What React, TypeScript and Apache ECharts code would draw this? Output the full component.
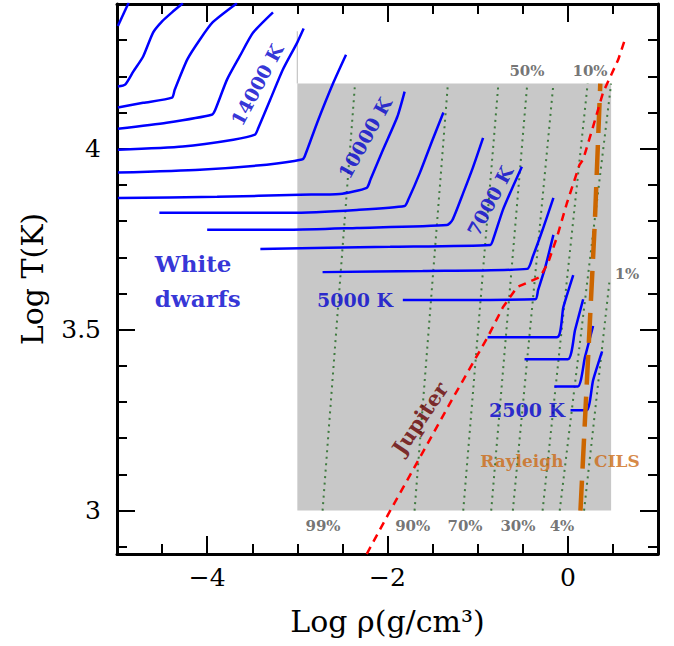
import React, { useEffect, useRef } from 'react';
import * as echarts from 'echarts';

// ---------- data (log rho, log T) ----------
const xRange = [-5, 1];
const yRange = [2.88, 4.4];
const xMajorTicks = [-4, -2, 0];
const xMinorTicks = [-4.5, -3.5, -3, -2.5, -1.5, -1, -0.5, 0.5];
const yMajorTicks = [3, 3.5, 4];
const yMinorTicks = [2.9, 3.1, 3.2, 3.3, 3.4, 3.6, 3.7, 3.8, 3.9, 4.1, 4.2, 4.3];

// white-dwarf cooling / isotherm curves
const wdCurves: number[][][] = [
  [[-4.99, 4.339], [-4.87, 4.404]],
  [[-4.99, 4.172], [-4.91, 4.177], [-4.82, 4.213], [-4.71, 4.255], [-4.6, 4.321], [-4.5, 4.352], [-4.39, 4.377], [-4.27, 4.402]],
  [[-4.99, 4.114], [-4.71, 4.127], [-4.39, 4.141], [-4.36, 4.163], [-4.22, 4.247], [-4.08, 4.302], [-3.94, 4.349], [-3.67, 4.402]],
  [[-4.99, 4.055], [-4.45, 4.072], [-3.95, 4.094], [-3.91, 4.108], [-3.78, 4.191], [-3.64, 4.255], [-3.49, 4.321], [-3.27, 4.377]],
  [[-4.99, 3.997], [-4.27, 4.006], [-3.71, 4.025], [-3.47, 4.039], [-3.44, 4.053], [-3.3, 4.136], [-3.16, 4.219], [-3.0, 4.294], [-2.93, 4.332]],
  [[-4.99, 3.934], [-4.08, 3.942], [-3.34, 3.956], [-2.95, 3.97], [-2.92, 3.978], [-2.78, 4.072], [-2.6, 4.183], [-2.46, 4.26]],
  [[-4.99, 3.864], [-3.89, 3.867], [-2.97, 3.873], [-2.53, 3.875], [-2.23, 3.892], [-2.19, 3.914], [-2.05, 3.997], [-1.89, 4.089], [-1.81, 4.158]],
  [[-4.53, 3.823], [-3.08, 3.823], [-2.34, 3.831], [-1.81, 3.842], [-1.77, 3.859], [-1.64, 3.934], [-1.5, 4.025], [-1.38, 4.1]],
  [[-4.0, 3.776], [-3.08, 3.776], [-2.34, 3.781], [-1.34, 3.789], [-1.28, 3.803], [-1.16, 3.878], [-1.05, 3.95], [-0.94, 4.03]],
  [[-3.41, 3.723], [-1.97, 3.729], [-0.86, 3.734], [-0.83, 3.748], [-0.72, 3.831], [-0.61, 3.895], [-0.51, 3.95]],
  [[-2.72, 3.659], [-1.61, 3.662], [-0.45, 3.668], [-0.39, 3.701], [-0.28, 3.776], [-0.16, 3.864]],
  [[-1.83, 3.582], [-0.36, 3.584], [-0.33, 3.609], [-0.25, 3.673], [-0.16, 3.762]],
  [[-0.89, 3.479], [-0.12, 3.479], [-0.05, 3.562], [0.06, 3.651]],
  [[-0.48, 3.418], [0.0, 3.418], [0.08, 3.499], [0.17, 3.584]],
  [[-0.15, 3.343], [0.11, 3.343], [0.19, 3.424], [0.28, 3.51]],
  [[0.03, 3.277], [0.21, 3.277], [0.28, 3.36], [0.38, 3.44]],
];

// dotted iso-fraction lines (99%, 90%, 70%, 50%, 30%, 10%, 4%, 1%)
const isoLines: number[][][] = [
  [[-2.72, 3.0], [-2.36, 4.18]],
  [[-1.7, 3.0], [-1.33, 4.18]],
  [[-1.16, 3.0], [-0.77, 4.18]],
  [[-0.85, 3.0], [-0.45, 4.18]],
  [[-0.61, 3.0], [-0.16, 4.18]],
  [[-0.28, 3.0], [0.22, 4.18]],
  [[-0.09, 3.0], [0.48, 4.18]],
  [[0.18, 3.0], [0.46, 3.63]],
];

const jupiter: number[][] = [
  [-2.23, 2.88], [-1.97, 3.0], [-1.64, 3.147], [-1.27, 3.313], [-0.89, 3.479], [-0.72, 3.562],
  [-0.56, 3.618], [-0.31, 3.645], [-0.22, 3.684], [-0.12, 3.756], [-0.01, 3.85], [0.13, 3.956],
  [0.17, 3.97], [0.28, 4.061], [0.39, 4.155], [0.56, 4.247], [0.64, 4.307],
];

const rayleighCils: number[][] = [[0.14, 3.0], [0.22, 3.4], [0.3, 3.8], [0.36, 4.18]];

const greyBox = [[-3, 3.0], [0.48, 4.18]];
const greyEdge: number[][] = [[-3, 4.18], [-3, 4.325]];

type Lab = { text: string; x: number; y: number; rot: number; color: string; size: number; bold: boolean; align?: string };
const BLUE = '#0000cc';
const GREY = '#505050';
const ORANGE = '#cc6a14';
const labels: Lab[] = [
  { text: '14000 K', x: -3.447, y: 4.177, rot: 62, color: BLUE, size: 19, bold: true },
  { text: '10000 K', x: -2.25, y: 4.03, rot: 61, color: BLUE, size: 19, bold: true },
  { text: '7000 K', x: -0.863, y: 3.856, rot: 62, color: BLUE, size: 19, bold: true },
  { text: '5000 K', x: -2.36, y: 3.582, rot: 0, color: BLUE, size: 19, bold: true },
  { text: '2500 K', x: -0.453, y: 3.277, rot: 0, color: BLUE, size: 19, bold: true },
  { text: 'White\ndwarfs', x: -4.58, y: 3.634, rot: 0, color: BLUE, size: 23, bold: true, align: 'left' },
  { text: 'Jupiter', x: -1.64, y: 3.255, rot: 56, color: '#660000', size: 21, bold: true },
  { text: 'Rayleigh', x: -0.51, y: 3.136, rot: 0, color: ORANGE, size: 17, bold: true },
  { text: 'CILS', x: 0.545, y: 3.136, rot: 0, color: ORANGE, size: 17, bold: true },
  { text: '99%', x: -2.715, y: 2.958, rot: 0, color: GREY, size: 15, bold: true },
  { text: '90%', x: -1.72, y: 2.958, rot: 0, color: GREY, size: 15, bold: true },
  { text: '70%', x: -1.14, y: 2.958, rot: 0, color: GREY, size: 15, bold: true },
  { text: '30%', x: -0.553, y: 2.958, rot: 0, color: GREY, size: 15, bold: true },
  { text: '4%', x: -0.065, y: 2.958, rot: 0, color: GREY, size: 15, bold: true },
  { text: '50%', x: -0.453, y: 4.216, rot: 0, color: GREY, size: 15, bold: true },
  { text: '10%', x: 0.246, y: 4.216, rot: 0, color: GREY, size: 15, bold: true },
  { text: '1%', x: 0.656, y: 3.654, rot: 0, color: GREY, size: 15, bold: true },
];

const FONT = 'DejaVu Serif';

function buildOption(): any {
  const lineStyle = { color: '#000', width: 3 };
  const tickStyle = { color: '#000', width: 2 };
  const mk = (dim: 'x' | 'y', position: string, major: boolean, withLine: boolean, withLabel: boolean) => {
    const range = dim === 'x' ? xRange : yRange;
    const ticks = dim === 'x' ? (major ? xMajorTicks : xMinorTicks) : (major ? yMajorTicks : yMinorTicks);
    const ax: any = {
      type: 'value', position, min: range[0], max: range[1],
      splitLine: { show: false },
      axisLine: { show: withLine, onZero: false, lineStyle },
      axisTick: { show: true, inside: true, length: major ? 18 : 10, lineStyle: tickStyle, customValues: ticks },
      axisLabel: { show: false },
    };
    if (withLabel) {
      ax.axisLabel = {
        show: true, customValues: ticks, fontSize: 25, fontFamily: FONT, color: '#000',
        margin: dim === 'x' ? 11 : 16,
        formatter: (v: number) => String(v).replace('-', '\u2212'),
      };
      ax.nameLocation = 'middle';
      ax.nameTextStyle = { fontSize: 30, fontFamily: FONT, color: '#000' };
      if (dim === 'x') {
        ax.name = 'Log \u03c1(g/cm\u00b3)';
        ax.nameGap = 52;
      } else {
        ax.name = 'Log T(K)';
        ax.nameGap = 70;
        ax.nameRotate = 90;
      }
    }
    return ax;
  };
  const xAxes = [
    mk('x', 'bottom', true, true, true),
    mk('x', 'bottom', false, false, false),
    mk('x', 'top', true, true, false),
    mk('x', 'top', false, false, false),
  ];
  const yAxes = [
    mk('y', 'left', true, true, true),
    mk('y', 'left', false, false, false),
    mk('y', 'right', true, true, false),
    mk('y', 'right', false, false, false),
  ];

  const series: any[] = [];
  series.push({
    type: 'line', silent: true, symbol: 'none', data: greyEdge, z: 2,
    lineStyle: { color: '#c4c4c4', width: 1.2 },
    markArea: {
      silent: true,
      itemStyle: { color: '#c8c8c8' },
      data: [[{ coord: greyBox[0] }, { coord: greyBox[1] }]],
    },
  });
  isoLines.forEach((d) =>
    series.push({
      type: 'line', silent: true, symbol: 'none', data: d, z: 3,
      lineStyle: { color: '#3f7a3f', width: 2, type: [2, 4.5] },
    })
  );
  wdCurves.forEach((d) =>
    series.push({
      type: 'line', silent: true, symbol: 'none', data: d, z: 4, smooth: 0.2,
      lineStyle: { color: '#0000ff', width: 2.5 },
    })
  );
  series.push({
    type: 'line', silent: true, symbol: 'none', data: rayleighCils, z: 5,
    lineStyle: { color: '#cc6600', width: 4.5, type: [30, 12] },
  });
  series.push({
    type: 'line', silent: true, symbol: 'none', data: jupiter, z: 6,
    lineStyle: { color: '#ff0000', width: 2.5, type: [8, 6] },
  });
  series.push({
    type: 'scatter', silent: true, symbolSize: 0, z: 10,
    data: labels.map((l) => ({
      value: [l.x, l.y],
      label: {
        show: true, position: 'inside', formatter: l.text, rotate: l.rot,
        color: l.color, fontSize: l.size, fontWeight: l.bold ? 'bold' : 'normal',
        fontFamily: FONT, align: l.align || 'center', verticalAlign: 'middle',
        lineHeight: Math.round(l.size * 1.5),
      },
    })),
  });

  return {
    animation: false,
    backgroundColor: '#ffffff',
    grid: { left: 117, right: 16, top: 4, bottom: 92, containLabel: false, outerBoundsMode: 'none' },
    xAxis: xAxes,
    yAxis: yAxes,
    series,
  };
}

export default function App() {
  const ref = useRef<HTMLDivElement>(null);
  useEffect(() => {
    if (!ref.current) return;
    const chart = echarts.init(ref.current, null, { renderer: 'svg' });
    chart.setOption(buildOption());
    return () => chart.dispose();
  }, []);
  return (
    <div
      ref={ref}
      style={{ position: 'fixed', left: 0, top: 0, width: 674, height: 646, background: '#fff' }}
    />
  );
}
